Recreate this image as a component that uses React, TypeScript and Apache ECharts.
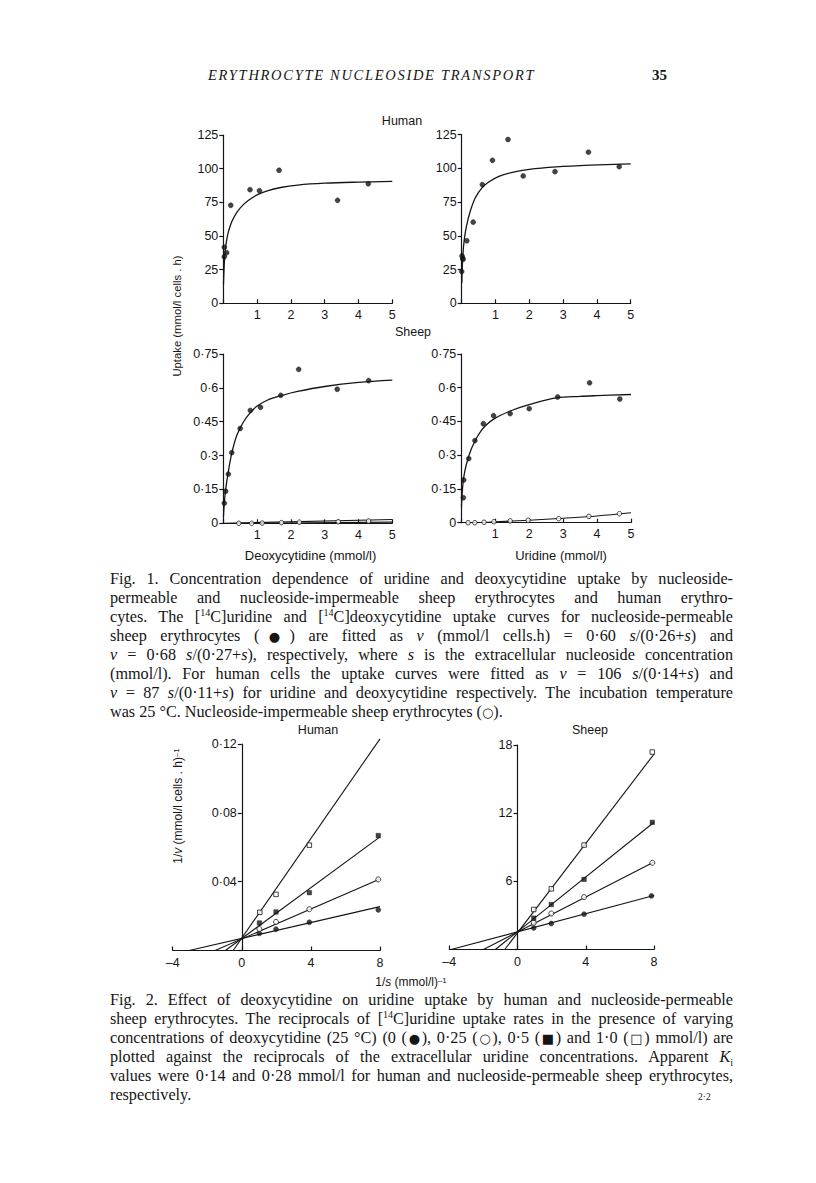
import React, { useEffect, useRef } from "react";
import * as echarts from "echarts";

// ---------------- Fig. 1 data ----------------
// Human, deoxycytidine (top left)
const humanDcydPoints: [number, number][] = [
  [0.03, 41.6], [0.03, 34.6], [0.1, 37.6], [0.22, 72.8], [0.79, 84.4],
  [1.07, 83.6], [1.65, 98.8], [3.38, 76.5], [4.29, 88.8],
];
const humanDcydCurve: [number, number][] = [
  [0.005, 14], [0.03, 30], [0.06, 40], [0.1, 47], [0.15, 53], [0.25, 60.5], [0.4, 67.5],
  [0.6, 73.5], [0.8, 77.5], [1.0, 80.5], [1.3, 83.5], [1.7, 86], [2.2, 87.8], [3, 89.2],
  [4, 90], [5, 90.5],
];
// Human, uridine (top right)
const humanUrdPoints: [number, number][] = [
  [0.0, 23.5], [0.01, 35.1], [0.03, 33.4], [0.04, 32.5], [0.15, 46.3], [0.34, 60.1],
  [0.61, 87.9], [0.91, 105.9], [1.37, 121.3], [1.82, 94.3], [2.76, 97.5],
  [3.75, 111.9], [4.66, 101.2],
];
const humanUrdCurve: [number, number][] = [
  [0.003, 15], [0.03, 34], [0.08, 48], [0.15, 58], [0.25, 68], [0.4, 78], [0.6, 85.5],
  [0.8, 89.8], [1.1, 94], [1.5, 97], [2, 99.2], [2.8, 101], [3.8, 102.3], [5, 103.3],
];
// Sheep, deoxycytidine (bottom left)
const sheepDcydPermeable: [number, number][] = [
  [0.03, 0.089], [0.07, 0.142], [0.15, 0.218], [0.25, 0.313], [0.5, 0.42],
  [0.8, 0.5], [1.1, 0.514], [1.7, 0.567], [2.23, 0.682], [3.37, 0.594], [4.3, 0.632],
];
const sheepDcydCurve: [number, number][] = [
  [0.005, 0.03], [0.03, 0.09], [0.07, 0.15], [0.15, 0.23], [0.25, 0.31], [0.4, 0.39],
  [0.6, 0.45], [0.8, 0.49], [1.0, 0.52], [1.3, 0.545], [1.7, 0.565], [2.2, 0.584],
  [3, 0.606], [4, 0.624], [5, 0.634],
];
const sheepDcydImpermeable: [number, number][] = [
  [0.46, 0], [0.84, 0], [1.15, 0.001], [1.72, 0.003], [2.25, 0.005], [3.4, 0.007], [4.3, 0.01],
];
const sheepDcydImpLineA: [number, number][] = [[0, 0], [5, 0.017]];
const sheepDcydImpLineB: [number, number][] = [[0.5, 0], [5, 0.005]];
// Sheep, uridine (bottom right)
const sheepUrdPermeable: [number, number][] = [
  [0.06, 0.111], [0.07, 0.19], [0.22, 0.285], [0.4, 0.365], [0.65, 0.44], [0.95, 0.476],
  [1.44, 0.485], [2.0, 0.507], [2.84, 0.559], [3.78, 0.622], [4.67, 0.55],
];
const sheepUrdCurve: [number, number][] = [
  [0.005, 0.07], [0.03, 0.14], [0.07, 0.2], [0.15, 0.26], [0.3, 0.33], [0.5, 0.39],
  [0.7, 0.43], [1, 0.465], [1.5, 0.5], [2, 0.525], [2.8, 0.555], [3.5, 0.562],
  [4, 0.565], [5, 0.57],
];
const sheepUrdImpermeable: [number, number][] = [
  [0.2, 0], [0.4, 0], [0.67, 0.002], [0.96, 0.004], [1.44, 0.008], [1.97, 0.011],
  [2.87, 0.018], [3.76, 0.028], [4.66, 0.04],
];
const sheepUrdImpLine: [number, number][] = [
  [0, 0], [0.5, 0.001], [1, 0.004], [2, 0.011], [3, 0.02], [4, 0.03], [5, 0.044],
];

// ---------------- Fig. 2 data (1/v vs 1/s) ----------------
const humanDcyd0: [number, number][] = [[1.02, 0.01], [1.98, 0.0124], [3.91, 0.0164], [7.9, 0.0236]];
const humanDcyd025: [number, number][] = [[1.02, 0.0125], [1.98, 0.0166], [3.91, 0.024], [7.9, 0.0413]];
const humanDcyd05: [number, number][] = [[1.02, 0.016], [1.98, 0.0224], [3.91, 0.0336], [7.9, 0.0668]];
const humanDcyd10: [number, number][] = [[1.04, 0.0222], [1.98, 0.0326], [3.91, 0.0612], [7.92, 0.1264]];
const humanFit0: [number, number][] = [[-3.05, 0], [8, 0.0255]];
const humanFit025: [number, number][] = [[-1.55, 0], [8, 0.0415]];
const humanFit05: [number, number][] = [[-0.95, 0], [8, 0.066]];
const humanFit10: [number, number][] = [[-0.5, 0], [8, 0.123]];

const sheepDcyd0: [number, number][] = [[0.95, 1.9], [1.98, 2.29], [3.9, 3.11], [7.85, 4.72]];
const sheepDcyd025: [number, number][] = [[0.95, 2.35], [1.98, 3.17], [3.9, 4.61], [7.9, 7.63]];
const sheepDcyd05: [number, number][] = [[0.95, 2.76], [1.98, 3.96], [3.9, 6.17], [7.9, 11.19]];
const sheepDcyd10: [number, number][] = [[0.95, 3.52], [1.98, 5.34], [3.9, 9.19], [7.9, 17.38]];
const sheepFit0: [number, number][] = [[-3.9, 0], [8, 4.75]];
const sheepFit025: [number, number][] = [[-2.0, 0], [8, 7.7]];
const sheepFit05: [number, number][] = [[-1.3, 0], [8, 11.2]];
const sheepFit10: [number, number][] = [[-0.75, 0], [8, 17.2]];

// ---------------- axis ranges ----------------
const fig1XMax = 5;
const humanYMax = 125;
const humanYStep = 25;
const sheepYMax = 0.75;
const sheepYStep = 0.15;
const fig2XMin = -4;
const fig2XMax = 8;
const fig2XStep = 4;
const fig2HumanYMax = 0.12;
const fig2HumanYStep = 0.04;
const fig2SheepYMax = 18;
const fig2SheepYStep = 6;

const SANS = '"Liberation Sans", Arial, Helvetica, sans-serif';
const SERIF = '"Liberation Serif", "Times New Roman", serif';
const INK = "#151515";

const dotNum = (v: number) => Number(v.toFixed(2)).toString().replace(".", "·");

function fig1X(gi: number) {
  return {
    type: "value", gridIndex: gi, min: 0, max: fig1XMax, interval: 1,
    axisLine: { onZero: false, lineStyle: { color: INK, width: 1.2 } },
    axisTick: { inside: true, length: 4, lineStyle: { color: INK, width: 1.2 } },
    axisLabel: {
      margin: 5, fontFamily: SANS, fontSize: 12.5, color: INK,
      formatter: (v: number) => (v === 0 ? "" : String(v)),
    },
    splitLine: { show: false },
  };
}
function fig1Y(gi: number, max: number, step: number) {
  return {
    type: "value", gridIndex: gi, min: 0, max, interval: step,
    axisLine: { show: true, onZero: false, lineStyle: { color: INK, width: 1.2 } },
    axisTick: { show: true, inside: false, length: 4, lineStyle: { color: INK, width: 1.2 } },
    axisLabel: { margin: 5, fontFamily: SANS, fontSize: 12.5, color: INK, formatter: (v: number) => dotNum(v) },
    splitLine: { show: false },
  };
}
function fig2X(gi: number) {
  return {
    type: "value", gridIndex: gi, min: fig2XMin, max: fig2XMax, interval: fig2XStep,
    axisLine: { onZero: false, lineStyle: { color: INK, width: 1.2 } },
    axisTick: { inside: true, length: 4, lineStyle: { color: INK, width: 1.2 } },
    axisLabel: {
      margin: 6, fontFamily: SANS, fontSize: 12.5, color: INK,
      formatter: (v: number) => (v < 0 ? "–" + Math.abs(v) : String(v)),
    },
    splitLine: { show: false },
  };
}
function fig2Y(gi: number, max: number, step: number) {
  return {
    type: "value", gridIndex: gi, min: 0, max, interval: step,
    axisLine: { show: true, onZero: false, lineStyle: { color: INK, width: 1.2 } },
    axisTick: { show: true, inside: false, length: 4, lineStyle: { color: INK, width: 1.2 } },
    axisLabel: {
      margin: 5, fontFamily: SANS, fontSize: 12.5, color: INK,
      formatter: (v: number) => (v === 0 ? "" : dotNum(v)),
    },
    splitLine: { show: false },
  };
}
const hiddenAxis = (gi: number, min: number, max: number) => ({
  type: "value", gridIndex: gi, min, max, show: false,
});

const curve = (gi: number, data: [number, number][], w = 1.3) => ({
  type: "line", xAxisIndex: gi, yAxisIndex: gi, data, showSymbol: false, symbol: "none",
  smooth: 0.35, lineStyle: { color: INK, width: w }, z: 2, silent: true,
});
const straight = (gi: number, data: [number, number][]) => ({
  type: "line", xAxisIndex: gi, yAxisIndex: gi, data, showSymbol: false, symbol: "none",
  lineStyle: { color: INK, width: 1.1 }, z: 2, silent: true, clip: false,
});
const marks = (gi: number, data: [number, number][], symbol: string, filled: boolean, size = 5) => ({
  type: "scatter", xAxisIndex: gi, yAxisIndex: gi, data, symbol, symbolSize: size, z: 5,
  itemStyle: filled
    ? { color: INK, borderColor: INK, borderWidth: 0.5 }
    : { color: "#fff", borderColor: INK, borderWidth: 1 },
});

const label = (x: number, y: number, text: string, size = 12.5, rich?: any, rotate = false) => ({
  type: "text", x, y, rotation: rotate ? Math.PI / 2 : 0,
  style: {
    text, fill: INK, fontFamily: SANS, fontSize: size,
    align: "center", verticalAlign: "middle", rich,
  },
});

const supRich = {
  i: { fontFamily: SANS, fontSize: 12, fontStyle: "italic", fill: INK },
  sup: { fontFamily: SANS, fontSize: 8, fill: INK, verticalAlign: "top" },
};

export default function App() {
  const ref = useRef<HTMLDivElement>(null);
  useEffect(() => {
    if (!ref.current) return;
    const chart = echarts.init(ref.current, null, { renderer: "svg" });
    chart.setOption({
      animation: false,
      backgroundColor: "transparent",
      grid: [
        { left: 223.3, top: 135, width: 169, height: 168.3 },
        { left: 461.7, top: 134.5, width: 169, height: 168.8 },
        { left: 223.3, top: 354, width: 169, height: 169.3 },
        { left: 461.3, top: 354, width: 169.7, height: 168.7 },
        { left: 172.7, top: 744, width: 207.3, height: 206.5 },
        { left: 241.8, top: 744, width: 138.2, height: 206.5 },
        { left: 449.3, top: 745, width: 204.7, height: 204.5 },
        { left: 517.5, top: 745, width: 136.5, height: 204.5 },
      ],
      xAxis: [
        fig1X(0), fig1X(1), fig1X(2), fig1X(3),
        fig2X(4), hiddenAxis(5, 0, fig2XMax),
        fig2X(6), hiddenAxis(7, 0, fig2XMax),
      ],
      yAxis: [
        fig1Y(0, humanYMax, humanYStep),
        fig1Y(1, humanYMax, humanYStep),
        fig1Y(2, sheepYMax, sheepYStep),
        fig1Y(3, sheepYMax, sheepYStep),
        hiddenAxis(4, 0, fig2HumanYMax),
        fig2Y(5, fig2HumanYMax, fig2HumanYStep),
        hiddenAxis(6, 0, fig2SheepYMax),
        fig2Y(7, fig2SheepYMax, fig2SheepYStep),
      ],
      series: [
        curve(0, humanDcydCurve), marks(0, humanDcydPoints, "circle", true),
        curve(1, humanUrdCurve), marks(1, humanUrdPoints, "circle", true),
        curve(2, sheepDcydCurve), marks(2, sheepDcydPermeable, "circle", true),
        straight(2, sheepDcydImpLineA), straight(2, sheepDcydImpLineB),
        marks(2, sheepDcydImpermeable, "circle", false, 4.5),
        curve(3, sheepUrdCurve), marks(3, sheepUrdPermeable, "circle", true),
        curve(3, sheepUrdImpLine, 1.1), marks(3, sheepUrdImpermeable, "circle", false, 4.5),

        straight(4, humanFit0), straight(4, humanFit025), straight(4, humanFit05), straight(4, humanFit10),
        marks(4, humanDcyd0, "circle", true, 5), marks(4, humanDcyd025, "circle", false, 5),
        marks(4, humanDcyd05, "rect", true, 4.5), marks(4, humanDcyd10, "rect", false, 4.5),

        straight(6, sheepFit0), straight(6, sheepFit025), straight(6, sheepFit05), straight(6, sheepFit10),
        marks(6, sheepDcyd0, "circle", true, 5), marks(6, sheepDcyd025, "circle", false, 5),
        marks(6, sheepDcyd05, "rect", true, 4.5), marks(6, sheepDcyd10, "rect", false, 4.5),
      ],
      graphic: [
        label(402, 121, "Human"),
        label(413, 332, "Sheep"),
        label(177, 316, "Uptake (mmol/l cells . h)", 11.3, undefined, true),
        label(310.5, 555, "Deoxycytidine (mmol/l)", 13),
        label(561, 555, "Uridine (mmol/l)", 13),
        label(318, 730, "Human"),
        label(590, 730, "Sheep"),
        label(178, 806, "1/{i|v} (mmol/l cells . h){sup|–1}", 12, supRich, true),
        label(411, 982, "1/{i|s} (mmol/l){sup|–1}", 12, supRich),
      ],
    });
    return () => chart.dispose();
  }, []);

  const lineStyle = (top: number, last = false): React.CSSProperties => ({
    position: "absolute", left: 110, width: 623, top: top - 9.5, height: 19, lineHeight: "19px",
    fontFamily: SERIF, fontSize: 16.2, color: INK, textAlign: last ? "left" : "justify",
    textAlignLast: last ? "left" : "justify", overflow: "hidden",
  });
  const sup: React.CSSProperties = { fontSize: 10, verticalAlign: "super", lineHeight: 0 };
  const sub: React.CSSProperties = { fontSize: 10, verticalAlign: "sub", lineHeight: 0 };
  const sym: React.CSSProperties = { fontFamily: '"DejaVu Sans", sans-serif', fontSize: 13 };

  const fig1Lines: React.ReactNode[] = [
    <>Fig. 1. Concentration dependence of uridine and deoxycytidine uptake by nucleoside-</>,
    <>permeable and nucleoside-impermeable sheep erythrocytes and human erythro-</>,
    <>cytes. The [<span style={sup}>14</span>C]uridine and [<span style={sup}>14</span>C]deoxycytidine uptake curves for nucleoside-permeable</>,
    <>sheep erythrocytes (<span style={sym}>●</span>) are fitted as <i>v</i> (mmol/l cells.h) = 0·60 <i>s</i>/(0·26+<i>s</i>) and</>,
    <><i>v</i> = 0·68 <i>s</i>/(0·27+<i>s</i>), respectively, where <i>s</i> is the extracellular nucleoside concentration</>,
    <>(mmol/l). For human cells the uptake curves were fitted as <i>v</i> = 106 <i>s</i>/(0·14+<i>s</i>) and</>,
    <><i>v</i> = 87 <i>s</i>/(0·11+<i>s</i>) for uridine and deoxycytidine respectively. The incubation temperature</>,
    <>was 25 °C. Nucleoside-impermeable sheep erythrocytes (<span style={sym}>○</span>).</>,
  ];
  const fig2Lines: React.ReactNode[] = [
    <>Fig. 2. Effect of deoxycytidine on uridine uptake by human and nucleoside-permeable</>,
    <>sheep erythrocytes. The reciprocals of [<span style={sup}>14</span>C]uridine uptake rates in the presence of varying</>,
    <>concentrations of deoxycytidine (25 °C) (0 (<span style={sym}>●</span>), 0·25 (<span style={sym}>○</span>), 0·5 (<span style={sym}>■</span>) and 1·0 (<span style={sym}>□</span>) mmol/l) are</>,
    <>plotted against the reciprocals of the extracellular uridine concentrations. Apparent <i>K</i><span style={sub}>i</span></>,
    <>values were 0·14 and 0·28 mmol/l for human and nucleoside-permeable sheep erythrocytes,</>,
    <>respectively.</>,
  ];

  return (
    <div style={{ position: "absolute", left: 0, top: 0, width: 816, height: 1183, background: "#fff", overflow: "hidden" }}>
      <div ref={ref} style={{ position: "absolute", left: 0, top: 0, width: 816, height: 1183 }} />
      <div style={{ position: "absolute", left: 208, top: 64, height: 22, lineHeight: "22px", fontFamily: SERIF, fontStyle: "italic", fontSize: 14.5, letterSpacing: 1.7, color: INK, whiteSpace: "nowrap" }}>
        ERYTHROCYTE NUCLEOSIDE TRANSPORT
      </div>
      <div style={{ position: "absolute", left: 652, top: 64, height: 22, lineHeight: "22px", fontFamily: SERIF, fontWeight: "bold", fontSize: 15, color: INK }}>
        35
      </div>
      {fig1Lines.map((l, i) => (
        <div key={"a" + i} style={lineStyle(579 + i * 19.05, i === fig1Lines.length - 1)}>{l}</div>
      ))}
      {fig2Lines.map((l, i) => (
        <div key={"b" + i} style={lineStyle(1000 + i * 19, i === fig2Lines.length - 1)}>{l}</div>
      ))}
      <div style={{ position: "absolute", left: 698, top: 1092, fontFamily: SERIF, fontSize: 9.5, color: INK }}>2·2</div>
    </div>
  );
}
